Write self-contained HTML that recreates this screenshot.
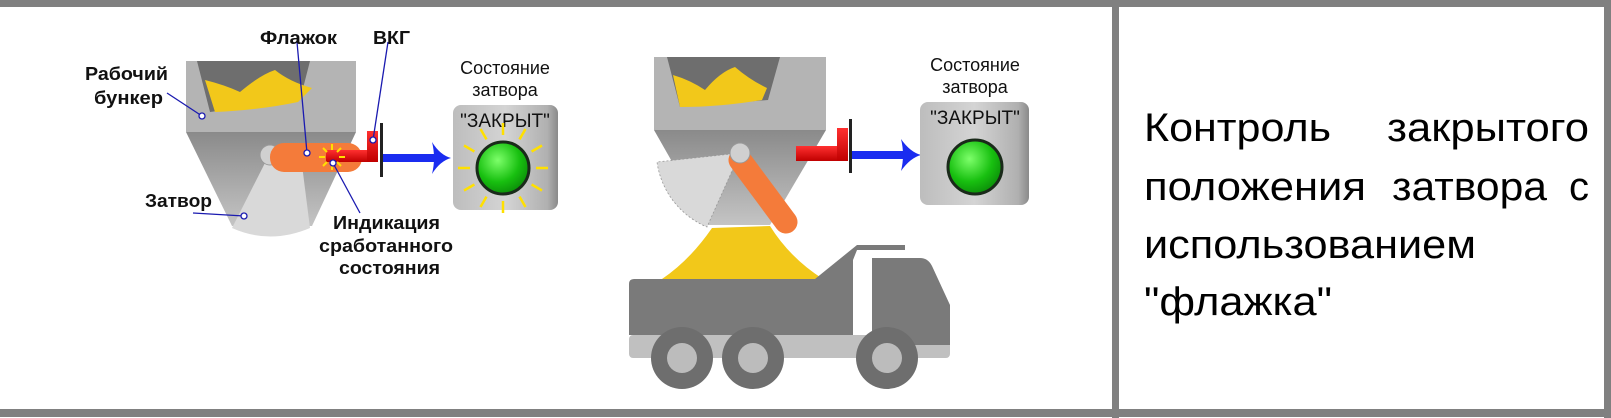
<!DOCTYPE html>
<html><head><meta charset="utf-8"><style>
html,body{margin:0;padding:0;background:#fff;width:1611px;height:418px;overflow:hidden}
svg{display:block}
text{font-family:"Liberation Sans",Arial,sans-serif}
</style></head><body>
<svg width="1611" height="418" viewBox="0 0 1611 418" xmlns="http://www.w3.org/2000/svg">
<defs>
<linearGradient id="cone" x1="0" y1="0" x2="0" y2="1"><stop offset="0" stop-color="#8a8a8a"/><stop offset="1" stop-color="#c4c4c4"/></linearGradient>
<linearGradient id="box" x1="0" y1="0" x2="1" y2="0"><stop offset="0" stop-color="#bdbdbd"/><stop offset="0.5" stop-color="#d4d4d4"/><stop offset="0.9" stop-color="#b0b0b0"/><stop offset="1" stop-color="#8a8a8a"/></linearGradient>
<radialGradient id="grn" cx="0.4" cy="0.35" r="0.7"><stop offset="0" stop-color="#7dff6a"/><stop offset="0.6" stop-color="#18c010"/><stop offset="1" stop-color="#0a8a08"/></radialGradient>
<linearGradient id="red" x1="0" y1="0" x2="0" y2="1"><stop offset="0" stop-color="#ff3030"/><stop offset="1" stop-color="#c00000"/></linearGradient>
</defs>

<rect x="0" y="0" width="1611" height="7" fill="#808080"/>
<rect x="0" y="409" width="1611" height="8" fill="#808080"/>
<rect x="1112" y="0" width="7" height="418" fill="#808080"/>
<rect x="1604" y="0" width="7" height="418" fill="#808080"/>

<!-- LEFT DIAGRAM -->
<rect x="186" y="61" width="170" height="71" fill="#b4b4b4"/>
<polygon points="197,61 310,61 300,100 210,112" fill="#6e6e6e"/>
<path d="M205,80 Q225,85 240,92 Q260,75 275,70 Q290,82 312,88 L298,102 Q260,110 215,112 Z" fill="#f2c81a"/>
<polygon points="186,132 356,132 312,226 232,226" fill="url(#cone)"/>
<path d="M268,157 L232,228 Q270,245 310,228 L302,165 Z" fill="#d9d9d9"/>
<circle cx="270" cy="155" r="10" fill="#d0d0d0" stroke="#999" stroke-width="1"/>
<rect x="270" y="143" width="92" height="29" rx="14" fill="#f47b3a"/>
<rect x="326" y="150" width="52" height="12" fill="url(#red)"/>
<rect x="367" y="131" width="11" height="31" fill="url(#red)"/>
<rect x="380" y="123" width="3" height="54" fill="#222"/>
<rect x="383" y="154" width="52" height="8" fill="#1a2cf0"/>
<path d="M432,142 Q440,155 451,158 Q440,161 432,174 Q436,158 432,142 Z" fill="#1a2cf0"/>
<g stroke="#ffe000" stroke-width="2">
<line x1="332" y1="144" x2="332" y2="150"/><line x1="332" y1="164" x2="332" y2="170"/>
<line x1="319" y1="157" x2="325" y2="157"/><line x1="339" y1="157" x2="345" y2="157"/>
<line x1="323" y1="148" x2="327" y2="152"/><line x1="337" y1="162" x2="341" y2="166"/>
<line x1="341" y1="148" x2="337" y2="152"/><line x1="323" y1="166" x2="327" y2="162"/>
</g>
<g stroke="#1a1ab0" stroke-width="1.3" fill="none">
<line x1="297" y1="42" x2="307" y2="153"/><circle cx="307" cy="153" r="3" fill="#fff"/>
<line x1="388" y1="42" x2="373" y2="140"/><circle cx="373" cy="140" r="3" fill="#fff"/>
<line x1="167" y1="93" x2="202" y2="116"/><circle cx="202" cy="116" r="3" fill="#fff"/>
<line x1="193" y1="213" x2="244" y2="216"/><circle cx="244" cy="216" r="3" fill="#fff"/>
<line x1="360" y1="213" x2="333" y2="163"/><circle cx="333" cy="163" r="3" fill="#fff"/>
</g>
<g font-weight="bold" font-size="18" fill="#111">
<text x="260" y="44" textLength="77" lengthAdjust="spacingAndGlyphs">Флажок</text>
<text x="373" y="44" textLength="37" lengthAdjust="spacingAndGlyphs">ВКГ</text>
<text x="85" y="80" textLength="83" lengthAdjust="spacingAndGlyphs">Рабочий</text>
<text x="94" y="104" textLength="69" lengthAdjust="spacingAndGlyphs">бункер</text>
<text x="145" y="207" textLength="67" lengthAdjust="spacingAndGlyphs">Затвор</text>
<text x="333" y="229" textLength="107" lengthAdjust="spacingAndGlyphs">Индикация</text>
<text x="319" y="252" textLength="134" lengthAdjust="spacingAndGlyphs">сработанного</text>
<text x="339" y="274" textLength="101" lengthAdjust="spacingAndGlyphs">состояния</text>
</g>
<g font-size="18" fill="#111" text-anchor="middle">
<text x="505" y="74">Состояние</text>
<text x="505" y="96">затвора</text>
</g>
<rect x="453" y="105" width="105" height="105" rx="8" fill="url(#box)"/>
<text x="505" y="127" font-size="19" text-anchor="middle" fill="#111">"ЗАКРЫТ"</text>
<g stroke="#ffe000" stroke-width="2.5" transform="translate(503,168)">
<line x1="0" y1="-33" x2="0" y2="-45"/><line x1="0" y1="33" x2="0" y2="45"/>
<line x1="-33" y1="0" x2="-45" y2="0"/><line x1="33" y1="0" x2="45" y2="0"/>
<line x1="16.5" y1="-28.6" x2="22.5" y2="-39"/><line x1="-16.5" y1="-28.6" x2="-22.5" y2="-39"/>
<line x1="16.5" y1="28.6" x2="22.5" y2="39"/><line x1="-16.5" y1="28.6" x2="-22.5" y2="39"/>
<line x1="28.6" y1="-16.5" x2="39" y2="-22.5"/><line x1="-28.6" y1="-16.5" x2="-39" y2="-22.5"/>
<line x1="28.6" y1="16.5" x2="39" y2="22.5"/><line x1="-28.6" y1="16.5" x2="-39" y2="22.5"/>
</g>
<circle cx="503" cy="168" r="26" fill="url(#grn)" stroke="#1a2a1a" stroke-width="3"/>

<!-- RIGHT DIAGRAM -->
<path d="M662,279 Q690,260 712,228 L770,226 Q790,258 823,279 Z" fill="#f2c81a"/>
<rect x="654" y="57" width="172" height="73" fill="#b4b4b4"/>
<polygon points="667,57 780,57 768,100 680,107" fill="#6e6e6e"/>
<path d="M673,75 Q690,80 705,90 Q720,72 735,67 Q750,80 767,88 L762,100 Q720,107 680,107 Z" fill="#f2c81a"/>
<polygon points="654,130 826,130 770,225 708,225" fill="url(#cone)"/>
<path d="M740,153 L657,162 A83,83 0 0 0 707,227 Z" fill="#d9d9d9" stroke="#999" stroke-width="0.8" stroke-dasharray="2,2"/>
<line x1="740" y1="160" x2="786" y2="222" stroke="#f47b3a" stroke-width="23" stroke-linecap="round"/>
<circle cx="740" cy="153" r="10" fill="#d0d0d0" stroke="#999" stroke-width="1"/>
<rect x="796" y="146" width="52" height="15" fill="url(#red)"/>
<rect x="837" y="128" width="11" height="33" fill="url(#red)"/>
<rect x="849" y="119" width="3" height="54" fill="#222"/>
<rect x="852" y="151" width="52" height="8" fill="#1a2cf0"/>
<path d="M901,139 Q910,152 921,155 Q910,158 901,171 Q905,155 901,139 Z" fill="#1a2cf0"/>
<g font-size="18" fill="#111" text-anchor="middle">
<text x="975" y="71">Состояние</text>
<text x="975" y="93">затвора</text>
</g>
<rect x="920" y="102" width="109" height="103" rx="8" fill="url(#box)"/>
<text x="975" y="124" font-size="19" text-anchor="middle" fill="#111">"ЗАКРЫТ"</text>
<circle cx="975" cy="167" r="27" fill="url(#grn)" stroke="#1a2a1a" stroke-width="3"/>

<rect x="629" y="335" width="321" height="23" rx="4" fill="#c0c0c0"/>
<path d="M634,279 L815,279 L857,245 L857,250 L853,260 L853,335 L629,335 L629,284 Q629,279 634,279 Z" fill="#7a7a7a"/>
<rect x="857" y="245" width="48" height="5" fill="#7a7a7a"/>
<path d="M872,258 L920,258 Q928,258 932,266 L950,305 L950,345 L872,345 Z" fill="#7a7a7a"/>
<g fill="#6e6e6e"><circle cx="682" cy="358" r="31"/><circle cx="753" cy="358" r="31"/><circle cx="887" cy="358" r="31"/></g>
<g fill="#bcbcbc"><circle cx="682" cy="358" r="15"/><circle cx="753" cy="358" r="15"/><circle cx="887" cy="358" r="15"/></g>

<g font-size="40" fill="#000">
<text x="1144" y="141" textLength="187" lengthAdjust="spacingAndGlyphs">Контроль</text>
<text x="1387" y="141" textLength="202" lengthAdjust="spacingAndGlyphs">закрытого</text>
<text x="1144" y="200" textLength="222" lengthAdjust="spacingAndGlyphs">положения</text>
<text x="1392" y="200" textLength="155" lengthAdjust="spacingAndGlyphs">затвора</text>
<text x="1569" y="200" textLength="20" lengthAdjust="spacingAndGlyphs">с</text>
<text x="1144" y="258" textLength="332" lengthAdjust="spacingAndGlyphs">использованием</text>
<text x="1144" y="315" textLength="188" lengthAdjust="spacingAndGlyphs">"флажка"</text>
</g>
</svg>
</body></html>
